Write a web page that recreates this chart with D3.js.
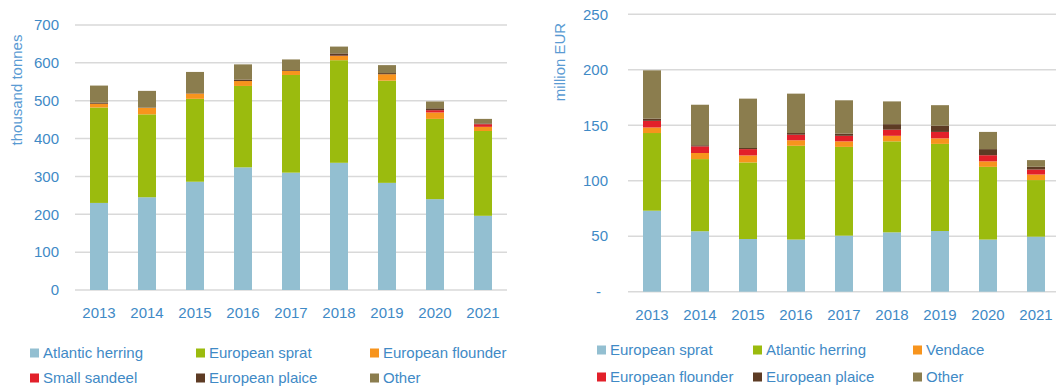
<!DOCTYPE html>
<html>
<head>
<meta charset="utf-8">
<script src="https://cdn.jsdelivr.net/npm/d3@7"></script>
<style>
  html, body { margin: 0; padding: 0; background: #ffffff; }
  svg { display: block; font-family: "Liberation Sans", Arial, sans-serif; }
</style>
</head>
<body>
<svg id="chart" width="1056" height="390"></svg>
<script>
// Years shown on both panels
const years = ["2013", "2014", "2015", "2016", "2017", "2018", "2019", "2020", "2021"];

// Landings volume (thousand tonnes)
const volHerring  = [230, 245, 286, 324, 310, 336, 283, 240, 196];
const volSprat    = [252, 219, 219, 215, 258, 271, 270, 212, 224];
const volFlounder = [10, 17, 14, 13, 11, 11, 17, 17, 11];
const volSandeel  = [0, 0, 0, 0, 0, 1, 0, 6, 7];
const volPlaice   = [3, 1, 1, 4, 2, 6, 3, 5, 2];
const volOther    = [45, 44, 56, 40, 28, 18, 21, 18, 12];
const volNames    = ["Atlantic herring", "European sprat", "European flounder", "Small sandeel", "European plaice", "Other"];
const volTicks    = [0, 100, 200, 300, 400, 500, 600, 700];
const volTickLabels = ["0", "100", "200", "300", "400", "500", "600", "700"];

// Landings value (million EUR)
const valSprat    = [73, 54.5, 47.5, 47, 50.5, 53.5, 54.7, 47, 49.6];
const valHerring  = [70, 65, 69, 84.5, 80, 82, 78.5, 65.5, 51];
const valVendace  = [5, 5.5, 6.3, 5, 5, 5, 5, 5, 5];
const valFlounder = [6, 6, 5.7, 5, 5, 5.5, 5.8, 5.5, 4.5];
const valPlaice   = [2, 1, 1, 1.5, 2, 5, 5.6, 5.5, 2.5];
const valOther    = [43.5, 36.5, 44.5, 35.5, 30, 20.5, 18.5, 15.5, 6];
const valNames    = ["European sprat", "Atlantic herring", "Vendace", "European flounder", "European plaice", "Other"];
const valTicks    = [0, 50, 100, 150, 200, 250];
const valTickLabels = ["-", "50", "100", "150", "200", "250"];

const seriesColors = ["#93bfd1", "#9bbb0e", "#f7941d", "#e2202a", "#5d3b24", "#8b7d4e"];
const textColor = "#3f8ac6";
const titleColor = "#5a9bd3";

const svg = d3.select("#chart");

function drawPanel(opt) {
  const g = svg.append("g");
  const x = d3.scaleBand().domain(years).range(opt.xRange).paddingInner(0.625).paddingOuter(0.3125);
  const y = d3.scaleLinear().domain([0, opt.max]).range(opt.yRange);

  // gridlines
  g.append("g").selectAll("line").data(opt.ticks).join("line")
    .attr("x1", opt.gridX[0]).attr("x2", opt.gridX[1])
    .attr("y1", d => y(d)).attr("y2", d => y(d))
    .attr("stroke", "#d9d9d9").attr("stroke-width", 1.5);

  // y tick labels
  g.append("g").selectAll("text").data(opt.ticks).join("text")
    .attr("x", (d, i) => opt.tickX - (opt.tickLabels[i] === "-" ? 7 : 0))
    .attr("y", d => y(d))
    .attr("dy", "0.35em")
    .attr("text-anchor", "end")
    .attr("font-size", 15)
    .attr("fill", textColor)
    .text((d, i) => opt.tickLabels[i]);

  // stacked bars
  const rows = years.map((yr, i) => {
    const r = { year: yr };
    opt.series.forEach((s, k) => { r[opt.names[k]] = s[i]; });
    return r;
  });
  const stacked = d3.stack().keys(opt.names)(rows);
  g.append("g").selectAll("g").data(stacked).join("g")
    .attr("fill", (d, k) => seriesColors[k])
    .selectAll("rect").data(d => d).join("rect")
      .attr("x", d => x(d.data.year))
      .attr("width", x.bandwidth())
      .attr("y", d => y(d[1]))
      .attr("height", d => Math.max(0, y(d[0]) - y(d[1])));

  // x labels
  g.append("g").selectAll("text").data(years).join("text")
    .attr("x", d => x(d) + x.bandwidth() / 2)
    .attr("y", opt.xLabelY)
    .attr("text-anchor", "middle")
    .attr("font-size", 15)
    .attr("fill", textColor)
    .text(d => d);

  // axis title
  g.append("text")
    .attr("transform", `translate(${opt.titlePos[0]},${opt.titlePos[1]}) rotate(-90)`)
    .attr("text-anchor", "middle")
    .attr("dy", "0.35em")
    .attr("font-size", 15)
    .attr("fill", titleColor)
    .text(opt.title);

  // legend: 3 columns x 2 rows
  const leg = g.append("g");
  opt.names.forEach((name, k) => {
    const col = k % 3, row = Math.floor(k / 3);
    const lx = opt.legendCols[col], ly = opt.legendRows[row];
    leg.append("rect").attr("x", lx).attr("y", ly - 4.5).attr("width", 9).attr("height", 9)
      .attr("fill", seriesColors[k]);
    leg.append("text").attr("x", lx + 13).attr("y", ly).attr("dy", "0.35em")
      .attr("font-size", 15).attr("fill", textColor).text(name);
  });
}

drawPanel({
  series: [volHerring, volSprat, volFlounder, volSandeel, volPlaice, volOther],
  names: volNames,
  max: 700, ticks: volTicks, tickLabels: volTickLabels,
  xRange: [75, 507], yRange: [290, 25], gridX: [75, 507],
  tickX: 59, xLabelY: 318,
  title: "thousand tonnes", titlePos: [17, 90],
  legendCols: [30, 196, 370], legendRows: [353, 378]
});

drawPanel({
  series: [valSprat, valHerring, valVendace, valFlounder, valPlaice, valOther],
  names: valNames,
  max: 250, ticks: valTicks, tickLabels: valTickLabels,
  xRange: [628, 1060], yRange: [291.7, 14.3], gridX: [628, 1060],
  tickX: 608, xLabelY: 320,
  title: "million EUR", titlePos: [560, 62],
  legendCols: [597, 753, 913], legendRows: [350, 377]
});
</script>
</body>
</html>
